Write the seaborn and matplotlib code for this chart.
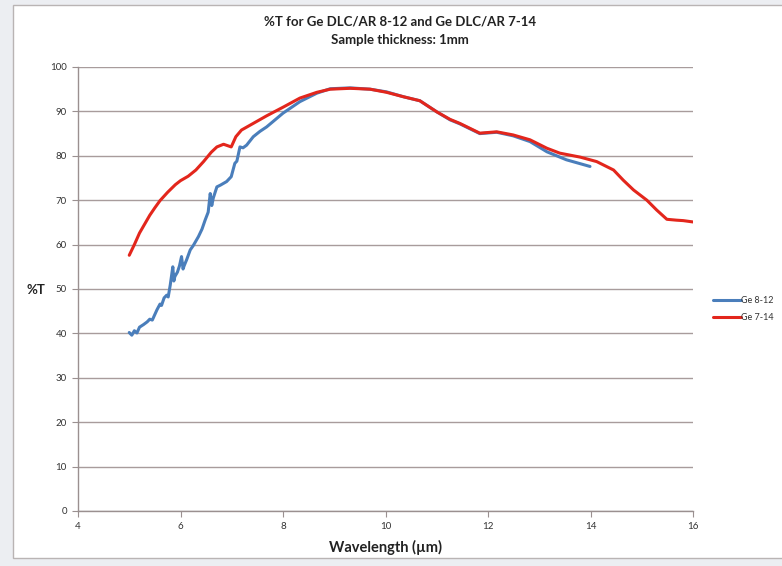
"""Ge DLC/AR transmission chart"""
import matplotlib
matplotlib.use("Agg")
import matplotlib.pyplot as plt
import pandas as pd
import seaborn as sns
from matplotlib.patches import Rectangle

# 数据
wl_8_12 = [5.0, 5.05, 5.1, 5.15, 5.2, 5.28, 5.35, 5.4, 5.45, 5.54, 5.6, 5.63,
           5.68, 5.73, 5.76, 5.8, 5.85, 5.87, 5.89, 5.94, 5.98, 6.02, 6.05,
           6.07, 6.12, 6.19, 6.25, 6.35, 6.42, 6.48, 6.54, 6.58, 6.61, 6.64,
           6.71, 6.78, 6.9, 6.99, 7.06, 7.1, 7.16, 7.22, 7.29, 7.42, 7.55,
           7.68, 8.0, 8.33, 8.66, 8.92, 9.31, 9.7, 10.02, 10.35, 10.67, 11.0,
           11.26, 11.45, 11.84, 12.17, 12.49, 12.82, 13.15, 13.53, 13.99]
t_8_12 = [40.2, 39.6, 40.6, 40.1, 41.4, 42.0, 42.6, 43.2, 43.0, 45.3, 46.6, 46.3,
          48.0, 48.6, 48.2, 50.9, 55.0, 51.8, 52.8, 53.8, 55.2, 57.3, 54.5,
          55.2, 56.6, 58.8, 59.8, 61.8, 63.5, 65.5, 67.3, 71.5, 68.8, 70.5,
          73.0, 73.4, 74.2, 75.3, 78.3, 78.8, 82.0, 81.8, 82.4, 84.3, 85.5,
          86.5, 89.6, 92.2, 94.1, 95.1, 95.3, 95.0, 94.4, 93.3, 92.4, 89.9,
          88.1, 87.2, 85.0, 85.3, 84.5, 83.2, 80.9, 79.1, 77.6]

wl_7_14 = [5.0, 5.1, 5.2, 5.3, 5.4, 5.5, 5.6, 5.75, 5.9, 6.0, 6.15, 6.3, 6.45,
           6.6, 6.71, 6.84, 6.99, 7.08, 7.19, 7.42, 7.68, 8.01, 8.33, 8.66,
           8.92, 9.31, 9.7, 10.02, 10.35, 10.67, 11.0, 11.26, 11.45, 11.84,
           12.17, 12.49, 12.82, 13.15, 13.4, 13.8, 14.12, 14.45, 14.64, 14.84,
           15.1, 15.29, 15.49, 15.68, 15.81, 16.0]
t_7_14 = [57.6, 60.0, 62.6, 64.6, 66.6, 68.3, 69.9, 71.8, 73.5, 74.4, 75.4, 76.8,
          78.7, 80.8, 82.0, 82.6, 82.0, 84.3, 85.8, 87.3, 89.0, 91.0, 93.0,
          94.3, 95.0, 95.2, 95.0, 94.3, 93.3, 92.4, 89.9, 88.2, 87.3, 85.1,
          85.4, 84.7, 83.6, 81.7, 80.6, 79.7, 78.7, 76.8, 74.5, 72.3, 70.0,
          67.8, 65.7, 65.5, 65.4, 65.1]

series_names = ["Ge 8-12", "Ge 7-14"]
series_colors = ["#4a7ebb", "#e3261c"]
x_ticks = [4, 6, 8, 10, 12, 14, 16]
y_ticks = [0, 10, 20, 30, 40, 50, 60, 70, 80, 90, 100]

df = pd.concat([
    pd.DataFrame({"wl": wl_8_12, "t": t_8_12, "series": series_names[0]}),
    pd.DataFrame({"wl": wl_7_14, "t": t_7_14, "series": series_names[1]}),
], ignore_index=True)

sns.set_theme(style="white")
plt.rcParams["font.family"] = ["Lato", "DejaVu Sans"]

fig = plt.figure(figsize=(7.82, 5.66), dpi=100)
fig.patch.set_facecolor("#eceef2")
# white chart area with a thin frame, kept behind the axes
fig.patches.append(Rectangle((13 / 782, 8 / 566), 1.0, 1 - 13 / 566,
                             transform=fig.transFigure, facecolor="white",
                             edgecolor="#b9b4b4", linewidth=1.0, zorder=-5))

ax = fig.add_axes([78 / 782, 1 - 511 / 566, (693 - 78) / 782, (511 - 67) / 566])
ax.set_facecolor("none")

sns.lineplot(data=df, x="wl", y="t", hue="series", hue_order=series_names,
             palette=series_colors, sort=False, estimator=None,
             linewidth=2.2, ax=ax, legend=False)

ax.set_xlim(4, 16)
ax.set_ylim(0, 100)
ax.set_xticks(x_ticks)
ax.set_yticks(y_ticks)
ax.tick_params(axis="both", labelsize=7, labelcolor="#333333", color="#9a9090",
               length=4, width=0.8, direction="out", bottom=True, left=True, pad=4)

ax.yaxis.grid(True, color="#a89c9c", linewidth=1.0)
ax.xaxis.grid(False)
ax.set_axisbelow(True)
for side in ["top", "right"]:
    ax.spines[side].set_visible(False)
for side in ["left", "bottom"]:
    ax.spines[side].set_color("#9a9090")
    ax.spines[side].set_linewidth(1.0)

ax.set_xlabel("Wavelength (µm)", fontsize=10.5, fontweight="bold",
              color="#222222", labelpad=6)
ax.set_ylabel("")
fig.text(36 / 782, 1 - 290 / 566, "%T", fontsize=9.5, fontweight="bold",
         color="#222222", ha="center", va="center")

fig.text(400 / 782, 1 - 22 / 566, "%T for Ge DLC/AR 8-12 and Ge DLC/AR 7-14",
         fontsize=9.5, fontweight="bold", color="#222222", ha="center", va="center")
fig.text(400 / 782, 1 - 40 / 566, "Sample thickness: 1mm",
         fontsize=9.5, fontweight="bold", color="#222222", ha="center", va="center")

# legend at right
handles = [plt.Line2D([], [], color=c, linewidth=2.2) for c in series_colors]
fig.legend(handles, series_names, loc="center left",
           bbox_to_anchor=(708 / 782, 1 - 309 / 566), frameon=False,
           fontsize=6.5, handlelength=3.2, handletextpad=0.0,
           labelspacing=0.9, borderpad=0.0, labelcolor="#333333")

plt.savefig("out.png", dpi=100)
